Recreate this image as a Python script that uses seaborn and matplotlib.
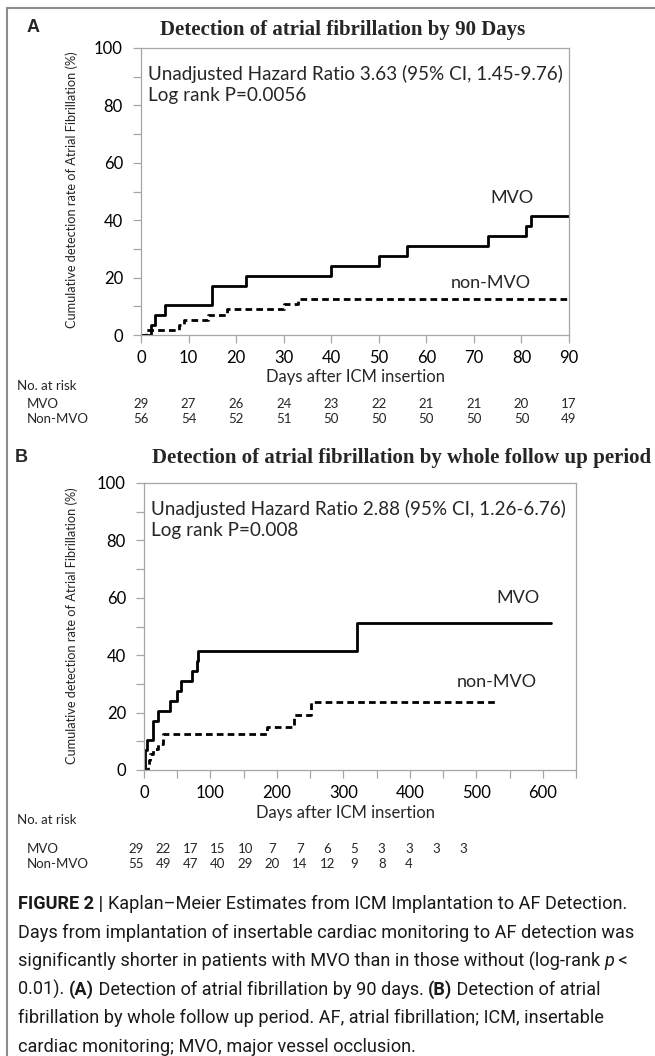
import numpy as np
import pandas as pd
import matplotlib
matplotlib.use("Agg")
import matplotlib.pyplot as plt
import seaborn as sns
from matplotlib.lines import Line2D
from matplotlib.ticker import MultipleLocator
from matplotlib.transforms import IdentityTransform

# ---------------- data ----------------
a_mvo_days = [0, 2, 3, 5, 15, 22, 40, 50, 56, 73, 81, 82, 90]
a_mvo_rate = [0, 3.4, 6.9, 10.3, 17.2, 20.7, 24.1, 27.6, 31.0, 34.5, 37.9, 41.4, 41.4]
a_non_days = [0, 1, 8, 9, 14, 18, 30, 33, 90]
a_non_rate = [0, 1.8, 3.6, 5.4, 7.1, 8.9, 10.7, 12.5, 12.5]

b_mvo_days = [0, 1, 4, 14, 21, 39, 49, 56, 72, 80, 82, 320, 613]
b_mvo_rate = [0, 6.9, 10.3, 17.2, 20.7, 24.1, 27.6, 31.0, 34.5, 37.9, 41.4, 51.2, 51.2]
b_non_days = [0, 6, 7, 9, 14, 21, 29, 185, 226, 252, 531]
b_non_rate = [0, 1.8, 3.6, 5.5, 7.3, 9.1, 12.7, 15.1, 19.3, 23.6, 23.6]

a_risk_days = [0, 10, 20, 30, 40, 50, 60, 70, 80, 90]
a_risk_mvo = [29, 27, 26, 24, 23, 22, 21, 21, 20, 17]
a_risk_non = [56, 54, 52, 51, 50, 50, 50, 50, 50, 49]

b_risk_mvo = [29, 22, 17, 15, 10, 7, 7, 6, 5, 3, 3, 3, 3]
b_risk_non = [55, 49, 47, 40, 29, 20, 14, 12, 9, 8, 4]

a_title = "Detection of atrial fibrillation by 90 Days"
b_title = "Detection of atrial fibrillation by whole follow up period"
a_stats = ["Unadjusted Hazard Ratio 3.63 (95% CI, 1.45-9.76)", "Log rank P=0.0056"]
b_stats = ["Unadjusted Hazard Ratio 2.88 (95% CI, 1.26-6.76)", "Log rank P=0.008"]
ylabel = "Cumulative detection rate of Atrial Fibrillation (%)"
xlabel = "Days after ICM insertion"

caption_lines = [
    [("FIGURE 2 | ", "bold", "normal"),
     ("Kaplan\u2013Meier Estimates from ICM Implantation to AF Detection.", "normal", "normal")],
    [("Days from implantation of insertable cardiac monitoring to AF detection was", "normal", "normal")],
    [("significantly shorter in patients with MVO than in those without (log-rank ", "normal", "normal"),
     ("p", "normal", "italic"), (" <", "normal", "normal")],
    [("0.01). ", "normal", "normal"), ("(A)", "bold", "normal"),
     (" Detection of atrial fibrillation by 90 days. ", "normal", "normal"),
     ("(B)", "bold", "normal"), (" Detection of atrial", "normal", "normal")],
    [("fibrillation by whole follow up period. AF, atrial fibrillation; ICM, insertable", "normal", "normal")],
    [("cardiac monitoring; MVO, major vessel occlusion.", "normal", "normal")],
]

# ---------------- style ----------------
sns.set_theme(style="white")
plt.rcParams["font.family"] = ["Lato", "DejaVu Sans"]

W, H = 655, 1056
fig = plt.figure(figsize=(W / 100, H / 100), dpi=100)
fig.patch.set_facecolor("white")

GRAY = "#a6a6a6"
SANS = ["Lato", "DejaVu Sans"]
SERIF = ["Liberation Serif", "DejaVu Serif"]
CAP = ["Roboto", "Liberation Sans"]

STAT_FS = 13.6
TICK_FS = 12
TAB_FS = 9.5


def fx(x):
    return x / W


def fy(y):
    return 1 - y / H


def rect(l, t, r, b):
    return [l / W, 1 - b / H, (r - l) / W, (b - t) / H]


# frame
fig.add_artist(Line2D([fx(7), fx(7)], [fy(8), 0], transform=fig.transFigure, color="#8c8c8c", lw=1.5))
fig.add_artist(Line2D([fx(7), 1], [fy(8), fy(8)], transform=fig.transFigure, color="#8c8c8c", lw=1.5))


def draw_panel(box, xmax, xmajor, xminor, mvo, non, stats, lab_mvo, lab_non):
    ax = fig.add_axes(rect(*box))
    d1 = pd.DataFrame({"day": mvo[0], "rate": mvo[1]})
    d2 = pd.DataFrame({"day": non[0], "rate": non[1]})
    sns.lineplot(data=d1, x="day", y="rate", drawstyle="steps-post", color="black", lw=2.0,
                 estimator=None, sort=False, ax=ax, legend=False)
    sns.lineplot(data=d2, x="day", y="rate", drawstyle="steps-post", color="black", lw=2.0,
                 linestyle=(0, (2.4, 1.5)), estimator=None, sort=False, ax=ax, legend=False)
    ax.set_xlim(0, xmax)
    ax.set_ylim(0, 100)
    ax.xaxis.set_major_locator(MultipleLocator(xmajor))
    ax.xaxis.set_minor_locator(MultipleLocator(xminor))
    ax.yaxis.set_major_locator(MultipleLocator(20))
    ax.yaxis.set_minor_locator(MultipleLocator(10))
    ax.set_xlabel("")
    ax.set_ylabel("")
    for s in ax.spines.values():
        s.set_color(GRAY)
        s.set_linewidth(0.9)
    ax.tick_params(which="both", direction="out", color=GRAY, length=6, width=0.9,
                   labelsize=TICK_FS, labelcolor="black")
    ax.tick_params(axis="y", which="both", pad=7, left=True)
    ax.tick_params(axis="x", which="both", pad=5, bottom=True)
    ax.set_xticklabels([str(int(v)) if 0 <= v <= xmax - (xmax % xmajor) else "" for v in ax.get_xticks()])
    ax.text(0.016, 0.91, stats[0], transform=ax.transAxes, fontsize=STAT_FS, family=SANS, va="center")
    ax.text(0.016, 0.835, stats[1], transform=ax.transAxes, fontsize=STAT_FS, family=SANS, va="center")
    ax.text(lab_mvo[0], lab_mvo[1], "MVO", fontsize=13, family=SANS, ha="center", va="center")
    ax.text(lab_non[0], lab_non[1], "non-MVO", fontsize=13, family=SANS, ha="center", va="center")
    return ax


# ---------------- panel A ----------------
axA = draw_panel((141, 48, 569, 335), 90, 10, 10, (a_mvo_days, a_mvo_rate), (a_non_days, a_non_rate),
                 a_stats, (78, 47.7), (73.5, 18.1))
fig.text(fx(33), fy(28), "A", fontsize=13, fontweight="bold", family=["Liberation Sans"], ha="center", va="center")
fig.text(fx(343), fy(30), a_title, fontsize=15, fontweight="bold", family=SERIF, ha="center", va="center")
fig.text(fx(72), fy(190), ylabel, fontsize=9.2, family=SANS, rotation=90, ha="center", va="center")
fig.text(fx(355), fy(377), xlabel, fontsize=12, family=SANS, ha="center", va="center")
fig.text(fx(17), fy(386), "No. at risk", fontsize=TAB_FS, family=SANS, ha="left", va="center")
fig.text(fx(27), fy(404), "MVO", fontsize=TAB_FS, family=SANS, ha="left", va="center")
fig.text(fx(27), fy(419), "Non-MVO", fontsize=TAB_FS, family=SANS, ha="left", va="center")
for d, m, n in zip(a_risk_days, a_risk_mvo, a_risk_non):
    xd = axA.transData.transform((d, 0))[0]
    fig.text(xd / W, fy(404), str(m), fontsize=TAB_FS, family=SANS, ha="center", va="center")
    fig.text(xd / W, fy(419), str(n), fontsize=TAB_FS, family=SANS, ha="center", va="center")

# ---------------- panel B ----------------
axB = draw_panel((144, 483, 576, 770), 650, 100, 50, (b_mvo_days, b_mvo_rate), (b_non_days, b_non_rate),
                 b_stats, (562, 60), (531, 30.7))
fig.text(fx(21), fy(458), "B", fontsize=13, fontweight="bold", family=["Liberation Sans"], ha="center", va="center")
fig.text(fx(402), fy(458), b_title, fontsize=15, fontweight="bold", family=SERIF, ha="center", va="center")
fig.text(fx(72), fy(626), ylabel, fontsize=9.2, family=SANS, rotation=90, ha="center", va="center")
fig.text(fx(345), fy(813), xlabel, fontsize=12, family=SANS, ha="center", va="center")
fig.text(fx(17), fy(820), "No. at risk", fontsize=TAB_FS, family=SANS, ha="left", va="center")
fig.text(fx(27), fy(849), "MVO", fontsize=TAB_FS, family=SANS, ha="left", va="center")
fig.text(fx(27), fy(864), "Non-MVO", fontsize=TAB_FS, family=SANS, ha="left", va="center")
col0, colstep = 136, 27.3
for i, m in enumerate(b_risk_mvo):
    fig.text(fx(col0 + i * colstep), fy(849), str(m), fontsize=TAB_FS, family=SANS, ha="center", va="center")
for i, n in enumerate(b_risk_non):
    fig.text(fx(col0 + i * colstep), fy(864), str(n), fontsize=TAB_FS, family=SANS, ha="center", va="center")

# ---------------- caption ----------------
renderer = fig.canvas.get_renderer()


def seg_width(text, weight, style, size):
    t1 = fig.text(0, 0, text + "l", fontsize=size, fontweight=weight, fontstyle=style, family=CAP)
    t2 = fig.text(0, 0, "l", fontsize=size, fontweight=weight, fontstyle=style, family=CAP)
    w = t1.get_window_extent(renderer).width - t2.get_window_extent(renderer).width
    t1.remove()
    t2.remove()
    return w


# fit the caption font so the widest line spans the reference text block (~18..640 px)
ref_size = 14.0
widest = max(sum(seg_width(t, w, s, ref_size) for t, w, s in line) for line in caption_lines)
cap_size = ref_size * 620.0 / widest

y0, dy = 904, 28.6
for k, line in enumerate(caption_lines):
    x = 18.0
    y = y0 + k * dy
    for text, weight, style in line:
        fig.text(x, H - y, text, fontsize=cap_size, fontweight=weight, fontstyle=style, family=CAP,
                 color="#1a1a1a", ha="left", va="center", transform=IdentityTransform())
        x += seg_width(text, weight, style, cap_size)

fig.savefig("out.png", dpi=100, facecolor="white")
